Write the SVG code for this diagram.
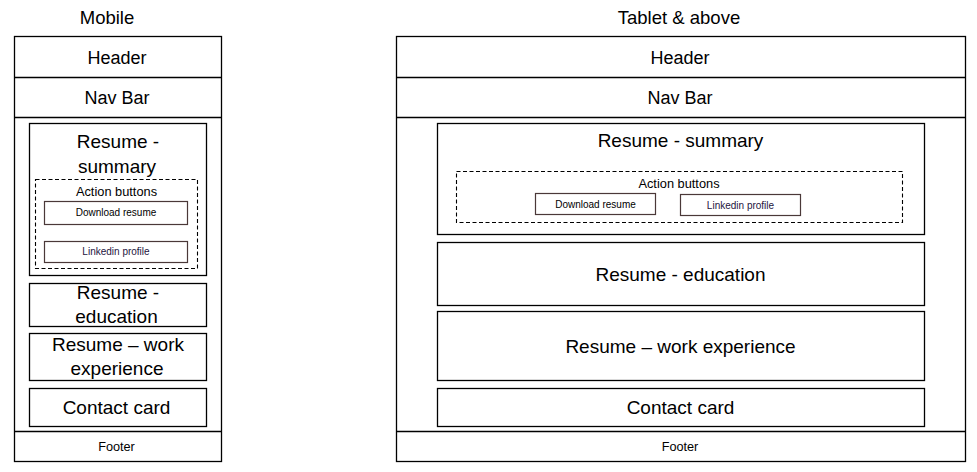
<svg xmlns="http://www.w3.org/2000/svg" width="977" height="472" viewBox="0 0 977 472">
  <style>
    .box { fill: #ffffff; stroke: #000000; stroke-width: 1.3; }
    .sep { stroke: #000000; stroke-width: 1.3; fill: none; }
    .dash { fill: none; stroke: #000000; stroke-width: 1.1; stroke-dasharray: 4 2.5; }
    .btn { fill: #ffffff; stroke: #4a3838; stroke-width: 1.2; }
    text { font-family: "Liberation Sans", Arial, sans-serif; fill: #000000; text-anchor: middle; }
    .title { font-size: 18.5px; }
    .bar { font-size: 18px; }
    .item { font-size: 19px; }
    .group-label { font-size: 12.8px; }
    .btn-label { font-size: 10px; }
    .link-label { font-size: 10px; fill: #24143e; }
    .foot { font-size: 12.7px; }
  </style>

  <!-- Mobile layout -->
  <g id="mobile">
    <text class="title" x="107" y="24">Mobile</text>
    <g id="mobile-frame">
      <rect class="box" x="14.5" y="36.5" width="207" height="425"/>
      <line class="sep" x1="14.5" y1="77.5" x2="221.5" y2="77.5"/>
      <line class="sep" x1="14.5" y1="117.5" x2="221.5" y2="117.5"/>
      <line class="sep" x1="14.5" y1="431.5" x2="221.5" y2="431.5"/>
    </g>
    <g id="mobile-header"><text class="bar" x="117" y="64">Header</text></g>
    <g id="mobile-nav"><text class="bar" x="117" y="104">Nav Bar</text></g>
    <g id="mobile-summary">
      <rect class="box" x="29.5" y="123.5" width="177" height="152"/>
      <text class="item" x="118" y="148">Resume  -</text>
      <text class="item" x="117" y="172.5">summary</text>
    </g>
    <g id="mobile-actions">
      <rect class="dash" x="35.5" y="179.5" width="162" height="89"/>
      <text class="group-label" x="116.5" y="196">Action buttons</text>
    </g>
    <g id="mobile-download">
      <rect class="btn" x="44.5" y="201.5" width="143" height="23"/>
      <text class="btn-label" x="116" y="215.5">Download resume</text>
    </g>
    <g id="mobile-linkedin">
      <rect class="btn" x="44.5" y="241.5" width="143" height="21"/>
      <text class="link-label" x="116" y="254.5">Linkedin profile</text>
    </g>
    <g id="mobile-education">
      <rect class="box" x="29.5" y="283.5" width="177" height="43"/>
      <text class="item" x="118" y="298.5">Resume  -</text>
      <text class="item" x="116.5" y="323">education</text>
    </g>
    <g id="mobile-work">
      <rect class="box" x="29.5" y="333.5" width="177" height="47"/>
      <text class="item" x="118" y="350.5">Resume – work</text>
      <text class="item" x="117" y="375">experience</text>
    </g>
    <g id="mobile-contact">
      <rect class="box" x="29.5" y="388.5" width="177" height="38"/>
      <text class="item" x="116.5" y="414">Contact card</text>
    </g>
    <g id="mobile-footer"><text class="foot" x="116.5" y="450.5">Footer</text></g>
  </g>

  <!-- Tablet and wider layout -->
  <g id="tablet">
    <text class="title" x="679" y="24">Tablet &amp; above</text>
    <g id="tablet-frame">
      <rect class="box" x="396.5" y="36.5" width="569" height="425"/>
      <line class="sep" x1="396.5" y1="77.5" x2="965.5" y2="77.5"/>
      <line class="sep" x1="396.5" y1="117.5" x2="965.5" y2="117.5"/>
      <line class="sep" x1="396.5" y1="431.5" x2="965.5" y2="431.5"/>
    </g>
    <g id="tablet-header"><text class="bar" x="680" y="64">Header</text></g>
    <g id="tablet-nav"><text class="bar" x="680" y="104">Nav Bar</text></g>
    <g id="tablet-summary">
      <rect class="box" x="437.5" y="123.5" width="487" height="111"/>
      <text class="item" x="680.5" y="147">Resume  - summary</text>
    </g>
    <g id="tablet-actions">
      <rect class="dash" x="456.5" y="171.5" width="446" height="51"/>
      <text class="group-label" x="679" y="187.5">Action buttons</text>
    </g>
    <g id="tablet-download">
      <rect class="btn" x="535.5" y="193.5" width="120" height="21"/>
      <text class="btn-label" x="595.5" y="207.7">Download resume</text>
    </g>
    <g id="tablet-linkedin">
      <rect class="btn" x="680.5" y="194.5" width="120" height="21"/>
      <text class="link-label" x="740.5" y="208.5">Linkedin profile</text>
    </g>
    <g id="tablet-education">
      <rect class="box" x="437.5" y="242.5" width="487" height="63"/>
      <text class="item" x="680.5" y="281">Resume  - education</text>
    </g>
    <g id="tablet-work">
      <rect class="box" x="437.5" y="311.5" width="487" height="69"/>
      <text class="item" x="680.5" y="353">Resume – work experience</text>
    </g>
    <g id="tablet-contact">
      <rect class="box" x="437.5" y="388.5" width="487" height="38"/>
      <text class="item" x="680.5" y="413.5">Contact card</text>
    </g>
    <g id="tablet-footer"><text class="foot" x="680" y="450.5">Footer</text></g>
  </g>
</svg>
